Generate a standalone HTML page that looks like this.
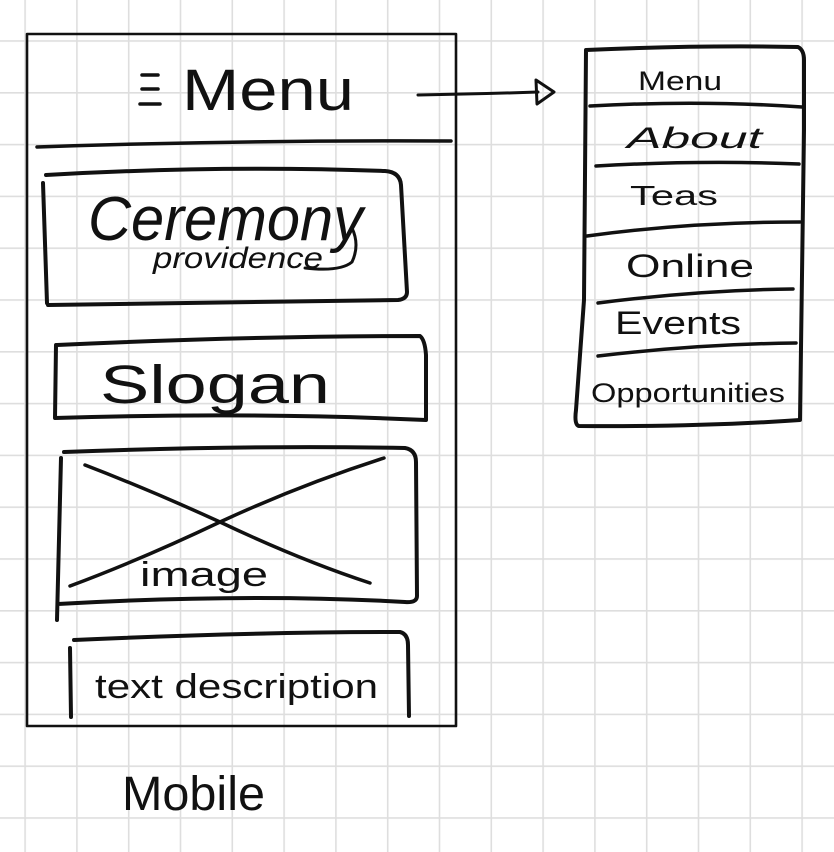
<!DOCTYPE html>
<html><head><meta charset="utf-8"><style>
html,body{margin:0;padding:0;background:#fff;}
svg{display:block}
text{font-family:"Liberation Sans",sans-serif;fill:#111;}
</style></head><body>
<svg width="834" height="852" viewBox="0 0 834 852" xmlns="http://www.w3.org/2000/svg">
<defs>
<pattern id="g" x="24.3" y="40.2" width="51.8" height="51.8" patternUnits="userSpaceOnUse">
<path d="M0 0.8 H51.8 M0.8 0 V51.8" stroke="#dedede" stroke-width="1.6" fill="none"/>
</pattern>
</defs>
<rect width="834" height="852" fill="url(#g)"/>
<g fill="none" stroke="#111" stroke-linecap="round" stroke-linejoin="round">
<rect x="27" y="34" width="429" height="692" stroke-width="2.6"/>
<path d="M142 75 H158 M142 89 H158 M140 104 H160" stroke-width="3.5"/>
<path d="M37 147 Q240 140 451 141" stroke-width="3.5"/>
<path d="M46 175 Q220 165 385 171 Q400 172 401 185 L407 292 Q407 299 398 300 L48 305 M43 183 L47 303" stroke-width="4"/>
<path d="M305 268 Q340 272 352 262 Q360 245 352 228" stroke-width="3"/>
<path d="M57 345 Q250 336 420 336 Q425 340 426 355 L426 420 Q250 412 55 418 L56 345" stroke-width="4"/>
<path d="M64 452 Q250 445 405 448 Q416 450 416 462 L417 596 Q417 603 405 602 Q250 593 58 604 M61 458 L57 620" stroke-width="4"/>
<path d="M85 465 Q150 490 220 522 Q300 560 370 583" stroke-width="3.5"/>
<path d="M384 458 Q300 485 220 522 Q140 560 70 586" stroke-width="3.5"/>
<path d="M74 640 Q250 632 400 632 Q408 634 408 645 L409 716 M70 648 L71 717" stroke-width="4"/>
<path d="M418 95 Q480 94 538 92" stroke-width="3"/>
<path d="M536 80 L554 92 L537 104 Z" stroke-width="3"/>
<path d="M586 50 Q700 45 798 47 Q804 50 804 60 L804 130 L800 420 Q700 427 579 426 Q574 425 576 410 L584 300 L586 50" stroke-width="4"/>
<path d="M590 106 Q700 100 802 107" stroke-width="3.5"/>
<path d="M596 166 Q700 160 799 164" stroke-width="3.5"/>
<path d="M587 236 Q690 222 800 222" stroke-width="3.5"/>
<path d="M598 303 Q700 290 793 289" stroke-width="3.5"/>
<path d="M598 356 Q700 344 796 343" stroke-width="3.5"/>
</g>
<text x="182" y="110" font-size="58" textLength="172" lengthAdjust="spacingAndGlyphs">Menu</text>
<text x="88" y="240" font-size="62" font-style="italic" textLength="275" lengthAdjust="spacingAndGlyphs">Ceremony</text>
<text x="153" y="268" font-size="30" font-style="italic" textLength="170" lengthAdjust="spacingAndGlyphs">providence</text>
<text x="100" y="403" font-size="54" textLength="230" lengthAdjust="spacingAndGlyphs">Slogan</text>
<text x="140" y="586" font-size="34" textLength="128" lengthAdjust="spacingAndGlyphs">image</text>
<text x="95" y="698" font-size="34" textLength="283" lengthAdjust="spacingAndGlyphs">text description</text>
<text x="122" y="810" font-size="48" textLength="143" lengthAdjust="spacingAndGlyphs">Mobile</text>
<text x="638" y="90" font-size="27" textLength="84" lengthAdjust="spacingAndGlyphs">Menu</text>
<text x="627" y="148" font-size="30" font-style="italic" textLength="135" lengthAdjust="spacingAndGlyphs">About</text>
<text x="630" y="205" font-size="28" textLength="88" lengthAdjust="spacingAndGlyphs">Teas</text>
<text x="626" y="277" font-size="32" textLength="128" lengthAdjust="spacingAndGlyphs">Online</text>
<text x="615" y="334" font-size="32" textLength="126" lengthAdjust="spacingAndGlyphs">Events</text>
<text x="591" y="402" font-size="27" textLength="194" lengthAdjust="spacingAndGlyphs">Opportunities</text>
</svg>
</body></html>
